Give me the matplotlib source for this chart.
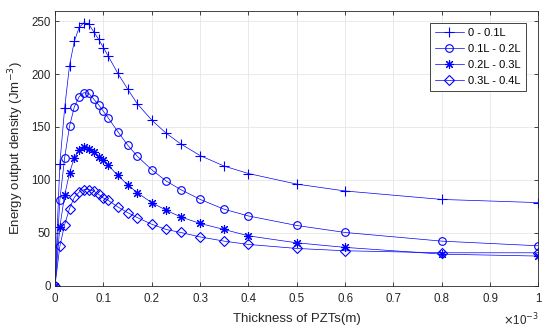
import numpy as np
import matplotlib.pyplot as plt

plt.rcParams['font.family'] = ['Liberation Sans', 'DejaVu Sans']

# thickness in units of 1e-3 m
thickness = [0, 0.01, 0.02, 0.03, 0.04, 0.05, 0.06, 0.07, 0.08, 0.09, 0.1, 0.11,
             0.13, 0.15, 0.17, 0.2, 0.23, 0.26, 0.3, 0.35, 0.4, 0.5, 0.6, 0.8, 1.0]

seg_0_01 = [0, 115, 168, 208, 231, 244, 248.5, 247, 240, 233, 225, 217,
            200.6, 186, 172, 156.5, 144, 134, 123, 113, 106, 96, 89.5, 81.5, 78.5]
seg_01_02 = [0, 81, 121, 150.5, 169, 178.6, 182.4, 181.7, 176.4, 171, 164.8, 158.6,
             145.5, 133, 122.4, 109.6, 98.9, 90.8, 81.6, 72.2, 65.9, 56.9, 50.3, 42.1, 37.7]
seg_02_03 = [0, 55.6, 85.4, 106.6, 121, 127.8, 130.9, 129.4, 126.2, 121.5, 118.4, 113.7,
             104.2, 95.5, 87.9, 78.5, 71.3, 65, 58.8, 53.1, 47.1, 40.5, 36.2, 29.8, 28]
seg_03_04 = [0, 37.2, 57.8, 72.9, 83.5, 88.5, 90.8, 90.8, 89.5, 86.3, 82.9, 80.7,
             74.4, 69.1, 64.4, 58.1, 53.1, 50.3, 46.1, 42.1, 39, 35.2, 33, 31.1, 31.1]

labels = ['0 - 0.1L', '0.1L - 0.2L', '0.2L - 0.3L', '0.3L - 0.4L']
markers = ['+', 'o', (8, 2, 0), 'D']   # matlab-like +, o, *, diamond
msizes = [7, 5.5, 6.5, 5]

fig = plt.figure(figsize=(5.5, 3.36), dpi=100)
ax = fig.add_axes([0.1, 0.1497, 0.879, 0.819])

for y, lab, m, ms in zip([seg_0_01, seg_01_02, seg_02_03, seg_03_04], labels, markers, msizes):
    ax.plot(thickness, y, color='blue', lw=0.5, marker=m, ms=ms,
            mfc='none', mec='blue', mew=0.8, label=lab)

ax.set_xlim(0, 1)
ax.set_ylim(0, 260)
ax.set_xticks(np.arange(0, 1.01, 0.1))
ax.set_xticklabels(['0', '0.1', '0.2', '0.3', '0.4', '0.5', '0.6', '0.7', '0.8', '0.9', '1'])
ax.set_yticks([0, 50, 100, 150, 200, 250])
ax.grid(True, color='#e6e6e6', lw=0.6)
ax.set_axisbelow(True)
ax.tick_params(direction='in', length=3, width=0.6, top=True, right=True,
               labelsize=8.3, colors='#262626', pad=3)
ax.tick_params(axis='x', pad=5)
for s in ax.spines.values():
    s.set_color('#262626')
    s.set_linewidth(0.6)

ax.set_xlabel('Thickness of PZTs(m)', fontsize=9.5, color='#262626', labelpad=6)
ax.set_ylabel('Energy output density (Jm$^{-3}$)', fontsize=9.5, color='#262626', labelpad=4)
ax.text(1.0, -0.095, r'$\times$10$^{-3}$', transform=ax.transAxes, ha='right', va='top',
        fontsize=8.3, color='#262626')

leg = ax.legend(loc='upper right', bbox_to_anchor=(0.974, 0.955), borderaxespad=0,
                fontsize=8, fancybox=False, edgecolor='#262626', framealpha=1,
                handlelength=2.6, borderpad=0.45, labelspacing=0.55, handletextpad=0.4)
leg.get_frame().set_linewidth(0.6)

fig.savefig('out.png', dpi=100)
